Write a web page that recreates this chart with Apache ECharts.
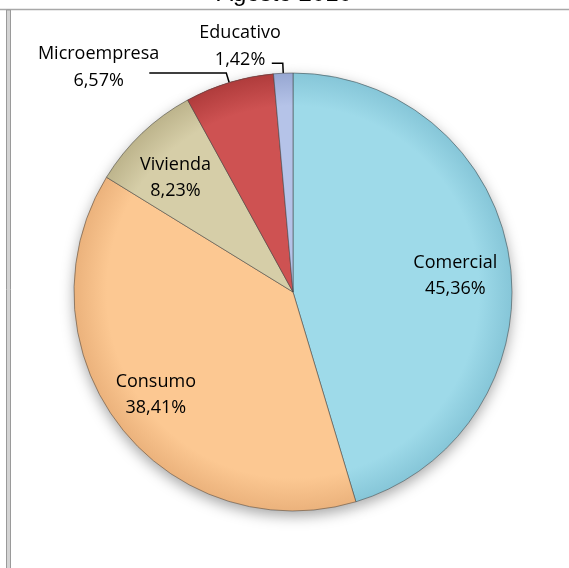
<!DOCTYPE html>
<html>
<head>
<meta charset="utf-8">
<script src="https://cdn.jsdelivr.net/npm/echarts@6/dist/echarts.min.js"></script>
<style>html,body{margin:0;padding:0;background:#fff;}#c{width:569px;height:568px;}</style>
</head>
<body>
<div id="c"></div>
<script>
const titleText = 'Agosto 2010';
const categories = ['Comercial', 'Consumo', 'Vivienda', 'Microempresa', 'Educativo'];
const values = [45.36, 38.41, 8.23, 6.57, 1.42];
const colors = ['#9EDAE9', '#FCC892', '#D6CEA8', '#CE5252', '#B5C3E8'];
const edgeColors = ['#86C6D8', '#EBB27C', '#BDB48C', '#B03C3C', '#97A7D2'];

const CX = 293, CY = 292, R = 219;
// label adjustments (style only)
const insideShift = [[51, 0], [-48, 34], [-40, -33], null, null];
const outsideLabel = {
  3: {padding: [0, 0, 11, 0], distance: -10, length: 10, length2: 77},
  4: {padding: [0, 0, 33, 0], distance: -9, length: 10, length2: 11}
};

function fmt(v) { return v.toFixed(2).replace('.', ',') + '%'; }

function grad(i) {
  return {
    type: 'radial', x: CX, y: CY, r: R, global: true,
    colorStops: [
      {offset: 0, color: colors[i]},
      {offset: 0.85, color: colors[i]},
      {offset: 1, color: edgeColors[i]}
    ]
  };
}

const mainData = categories.map((name, i) => {
  const item = {name: name, value: values[i], itemStyle: {color: grad(i)}};
  if (outsideLabel[i]) {
    const o = outsideLabel[i];
    item.label = {
      show: true, position: 'outside', padding: o.padding,
      distanceToLabelLine: o.distance,
      formatter: p => '{a|' + p.name + '}\n{a|' + fmt(p.value) + '}',
      rich: {a: {align: 'center', fontSize: 18, lineHeight: 27, fontFamily: 'Open Sans', color: '#000'}}
    };
    item.labelLine = {show: true, length: o.length, length2: o.length2, lineStyle: {color: '#000', width: 1.5}};
  } else {
    item.label = {
      show: true, position: 'inside',
      formatter: p => p.name + '\n' + fmt(p.value)
    };
    item.labelLine = {show: false};
  }
  return item;
});

const shadowData = categories.map((name, i) => ({name: name, value: values[i], itemStyle: {color: colors[i]}}));

const chart = echarts.init(document.getElementById('c'), null, {renderer: 'canvas'});
chart.setOption({
  animation: false,
  backgroundColor: '#fff',
  title: {
    text: titleText, left: 'center', top: -18, padding: 0,
    textStyle: {fontFamily: 'Liberation Sans', fontSize: 24, fontWeight: 'normal', color: '#000'}
  },
  graphic: [
    {type: 'line', shape: {x1: 0, y1: 9.5, x2: 569, y2: 9.5}, style: {stroke: '#A8A8A8', lineWidth: 1.5}, z: 100},
    {type: 'rect', shape: {x: 6.5, y: 10, width: 4, height: 570}, style: {fill: '#D4D4D4', stroke: '#9A9A9A', lineWidth: 1}, z: 100}
  ],
  series: [
    {
      type: 'pie', center: [CX, CY], radius: R, startAngle: 90, clockwise: true,
      silent: true, z: 1, label: {show: false}, labelLine: {show: false},
      itemStyle: {shadowBlur: 14, shadowColor: 'rgba(0,0,0,0.35)', shadowOffsetY: 5, borderWidth: 0},
      data: shadowData
    },
    {
      type: 'pie', center: [CX, CY], radius: R, startAngle: 90, clockwise: true,
      avoidLabelOverlap: false, z: 2,
      itemStyle: {borderColor: 'rgba(70,70,70,0.55)', borderWidth: 1},
      label: {fontFamily: 'Open Sans', fontSize: 18, lineHeight: 26, color: '#000'},
      emphasis: {disabled: true},
      labelLayout: function (params) {
        if (params.seriesIndex !== 1) return null;
        const s = insideShift[params.dataIndex];
        if (!s) return null;
        return {dx: s[0], dy: s[1]};
      },
      data: mainData
    }
  ]
});
</script>
</body>
</html>
